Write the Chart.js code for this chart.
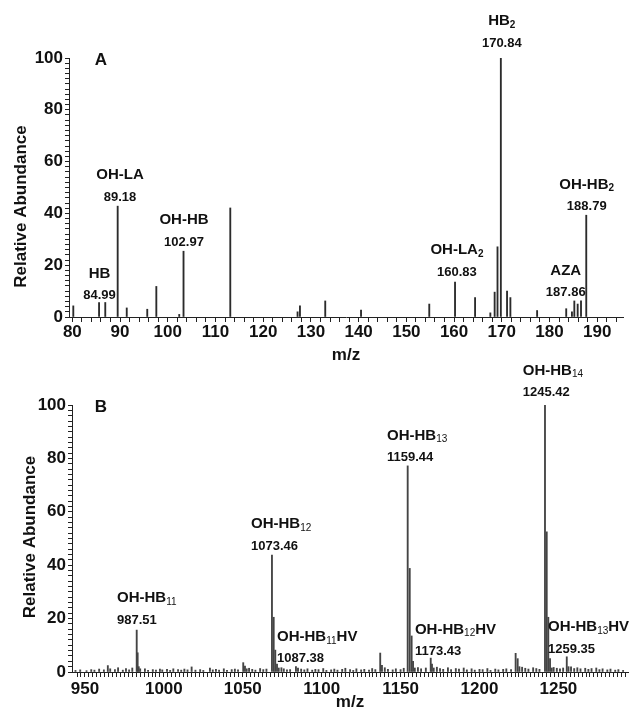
<!DOCTYPE html>
<html>
<head>
<meta charset="utf-8">
<script src="https://cdn.jsdelivr.net/npm/chart.js@4.4.1/dist/chart.umd.min.js"></script>
<style>
  html, body { margin: 0; padding: 0; background: #fff; overflow: hidden; }
  #wrapA { position: absolute; left: 0; top: 0; width: 635px; height: 366px; }
  #wrapB { position: absolute; left: 0; top: 346px; width: 635px; height: 363px; }
</style>
</head>
<body>
<div id="wrapA"><canvas id="chartA"></canvas></div>
<div id="wrapB"><canvas id="chartB"></canvas></div>
<script>
// panel A peaks (m/z read against the axis, relative abundance)
const mzA = [80.2, 85.6, 86.9, 89.5, 91.4, 95.7, 97.6, 102.4, 103.3, 113.1,
  127.2, 127.7, 133.0, 140.5, 154.8, 160.2, 164.4, 167.6, 168.5, 169.1,
  169.8, 171.1, 171.8, 177.4, 183.5, 184.7, 185.2, 185.9, 186.6, 187.7];
const abundanceA = [4.3, 5.6, 5.6, 42.8, 3.5, 3.0, 11.8, 1.0, 25.4, 42.1,
  2.0, 4.3, 6.2, 2.7, 5.0, 13.5, 7.5, 1.6, 9.6, 27.1,
  100, 10.0, 7.5, 2.5, 3.2, 2.0, 6.2, 5.0, 6.2, 39.3];

// panel B main peaks
const mzB = [982.8, 983.4, 984.1, 985.0, 1050.3, 1051.4, 1052.5,
  1068.5, 1069.6, 1070.6, 1071.7, 1072.8, 1083.7, 1137.1, 1138.2,
  1154.5, 1155.8, 1157.0, 1157.9, 1159.0, 1169.1, 1169.9, 1171.0,
  1222.9, 1224.2, 1225.3, 1241.5, 1242.6, 1243.6, 1244.7, 1245.8, 1255.3, 1256.4];
const abundanceB = [15.7, 7.2, 2.0, 1.2, 3.5, 2.2, 1.2,
  43.8, 20.5, 8.2, 3.0, 1.5, 2.0, 7.1, 2.5,
  77.2, 38.8, 13.5, 4.0, 1.5, 5.2, 3.0, 1.5,
  7.0, 5.0, 2.0, 100, 52.5, 20.5, 5.0, 1.5, 5.7, 2.0];

// panel B baseline noise
const noiseMzB = [944, 947, 951, 954, 956, 959, 962, 964.5, 966, 969,
  971, 974, 976, 978, 980, 988, 990, 993, 995, 997.5,
  999, 1002, 1004, 1006, 1009, 1011, 1013, 1015, 1017.6, 1020,
  1023, 1025, 1029.2, 1031, 1033, 1035, 1038, 1040, 1043, 1045,
  1047, 1054, 1056, 1058, 1061, 1063, 1065, 1074.5, 1076, 1078,
  1080, 1085, 1087, 1089, 1091, 1094, 1096, 1098, 1101, 1103,
  1106, 1108, 1110, 1113, 1115, 1118, 1120, 1122, 1125, 1127,
  1130, 1132, 1134, 1140, 1142, 1145, 1147, 1150, 1152, 1161,
  1163, 1166, 1173, 1175, 1177, 1180, 1182, 1185, 1187, 1190,
  1192, 1195, 1197, 1200, 1202, 1205, 1207, 1210, 1212, 1215,
  1217, 1220, 1227, 1229, 1231, 1234, 1236, 1238, 1247, 1249,
  1251, 1253, 1258, 1260, 1262, 1264, 1267, 1269, 1271, 1274,
  1276, 1278, 1281, 1283, 1286, 1288, 1291];
const noiseAbB = [0.6, 0.8, 0.5, 0.9, 0.7, 1.1, 0.8, 2.4, 1.2, 0.9,
  1.6, 0.7, 1.3, 0.8, 1.5, 1.2, 0.6, 0.9, 0.7, 1.1,
  0.8, 1.0, 0.6, 1.2, 0.9, 0.7, 1.1, 0.8, 1.9, 0.7,
  0.9, 0.6, 1.5, 0.8, 1.0, 0.7, 1.2, 0.6, 0.9, 1.1,
  0.8, 1.4, 1.0, 0.7, 1.3, 0.9, 1.1, 1.6, 1.2, 0.8,
  0.9, 1.5, 1.1, 0.8, 1.2, 0.7, 1.0, 0.9, 1.3, 0.6,
  0.8, 1.1, 0.7, 1.0, 1.4, 0.9, 0.6, 1.2, 0.8, 1.0,
  0.7, 1.3, 0.9, 1.6, 1.0, 0.8, 1.2, 0.9, 1.4, 1.7,
  1.2, 1.5, 1.8, 1.3, 1.0, 1.6, 0.9, 1.3, 1.1, 1.5,
  0.8, 1.2, 0.7, 1.0, 0.9, 1.3, 0.6, 1.1, 0.8, 1.0,
  1.2, 0.9, 1.8, 1.4, 1.1, 1.6, 1.3, 1.0, 1.7, 1.4,
  1.2, 1.5, 1.9, 1.3, 1.6, 1.2, 1.4, 1.0, 1.3, 1.5,
  0.9, 1.2, 0.8, 1.1, 0.7, 0.9, 0.6];

// tick labels
const xTicksA = [80, 90, 100, 110, 120, 130, 140, 150, 160, 170, 180, 190];
const xTicksB = [950, 1000, 1050, 1100, 1150, 1200, 1250];
const yTicks = [0, 20, 40, 60, 80, 100];

// peak annotations
const namesA = ['HB', 'OH-LA', 'OH-HB', 'HB', 'OH-LA', 'AZA', 'OH-HB'];
const subsA = ['', '', '', '2', '2', '', '2'];
const tailsA = ['', '', '', '', '', '', ''];
const valuesA = ['84.99', '89.18', '102.97', '170.84', '160.83', '187.86', '188.79'];
const labelMzA = [85.7, 90.0, 103.4, 170.0, 160.6, 183.4, 187.8];
const labelAbA = [8.2, 46.3, 28.9, 105.8, 17.3, 9.3, 42.6];

const namesB = ['OH-HB', 'OH-HB', 'OH-HB', 'OH-HB', 'OH-HB', 'OH-HB', 'OH-HB'];
const subsB = ['11', '12', '11', '13', '12', '14', '13'];
const tailsB = ['', '', 'HV', '', 'HV', '', 'HV'];
const valuesB = ['987.51', '1073.46', '1087.38', '1159.44', '1173.43', '1245.42', '1259.35'];
const labelMzB = [970.3, 1055.2, 1071.7, 1141.4, 1159.1, 1227.4, 1243.4];
const labelAbB = [19.5, 47.2, 4.9, 80.3, 7.7, 104.7, 8.6];

const FAMILY = '"Liberation Sans", Arial, sans-serif';
const INK = '#111';

function range(start, end, step) {
  const out = [];
  for (let v = start; v <= end + 1e-9; v += step) out.push(Math.round(v * 100) / 100);
  return out;
}

function labelPlugin(p) {
  return {
    id: 'peakLabels',
    afterDatasetsDraw(chart) {
      const { ctx, chartArea, scales: { x, y } } = chart;
      ctx.save();
      ctx.fillStyle = INK;
      ctx.textBaseline = 'middle';
      ctx.textAlign = 'left';
      p.values.forEach((val, i) => {
        const px = x.getPixelForValue(p.mz[i]);
        const py = y.getPixelForValue(p.ab[i]);
        const parts = [
          { t: p.names[i], f: 'bold 15px ' + FAMILY, dy: 0 },
          { t: p.subs[i], f: p.subWeight + ' 10px ' + FAMILY, dy: 4 },
          { t: p.tails[i], f: 'bold 15px ' + FAMILY, dy: 0 }
        ];
        let w = 0;
        parts.forEach((part) => {
          ctx.font = part.f;
          part.w = part.t ? ctx.measureText(part.t).width : 0;
          w += part.w;
        });
        let nx = p.align === 'left' ? px : px - w / 2;
        parts.forEach((part) => {
          if (!part.t) return;
          ctx.font = part.f;
          ctx.fillText(part.t, nx, py - 22 + part.dy);
          nx += part.w;
        });
        ctx.font = 'bold 13px ' + FAMILY;
        const vw = ctx.measureText(val).width;
        ctx.fillText(val, p.align === 'left' ? px : px - vw / 2, py);
      });
      ctx.font = 'bold 17px ' + FAMILY;
      ctx.textAlign = 'center';
      ctx.fillText(p.panel, 101, chartArea.top + 2.5);
      ctx.translate(p.titleX, (chartArea.top + chartArea.bottom) / 2 + p.titleShift);
      ctx.rotate(-Math.PI / 2);
      ctx.fillText('Relative Abundance', 0, 0);
      ctx.restore();
    }
  };
}

function buildChart(id, cfg) {
  const points = cfg.mz.map((m, i) => ({ x: m, y: cfg.ab[i] }));
  const axisFont = { family: FAMILY, size: 17, weight: 'bold' };
  return new Chart(document.getElementById(id), {
    type: 'bar',
    data: {
      datasets: [{
        data: points,
        backgroundColor: cfg.color,
        barThickness: 1.2,
        borderWidth: 0
      }]
    },
    options: {
      responsive: true,
      maintainAspectRatio: false,
      animation: false,
      layout: { padding: { top: cfg.top, right: cfg.right, left: 0, bottom: 0 } },
      plugins: { legend: { display: false }, tooltip: { enabled: false } },
      scales: {
        x: {
          type: 'linear',
          min: cfg.xMin,
          max: cfg.xMax,
          offset: false,
          grid: { drawOnChartArea: false, tickLength: 5, tickColor: '#222', offset: false },
          border: { color: '#222', width: 1 },
          ticks: {
            autoSkip: false,
            maxRotation: 0,
            padding: cfg.xLabelPad,
            color: INK,
            font: axisFont,
            callback: (v) => (cfg.xMajor.includes(v) ? String(v) : '')
          },
          afterBuildTicks: (s) => { s.ticks = cfg.xMinor.map((v) => ({ value: v })); },
          afterFit: (s) => { s.height = cfg.xHeight; },
          title: {
            display: true,
            text: 'm/z',
            color: INK,
            font: axisFont,
            padding: { top: 0, bottom: cfg.titlePad }
          }
        },
        y: {
          min: 0,
          max: 100,
          grid: { drawOnChartArea: false, tickLength: 4, tickColor: '#222' },
          border: { color: '#222', width: 1 },
          ticks: {
            autoSkip: false,
            padding: 2,
            color: INK,
            font: axisFont,
            callback: (v) => (yTicks.includes(v) ? String(v) : '')
          },
          afterBuildTicks: (s) => { s.ticks = range(0, 100, 2).map((v) => ({ value: v })); },
          afterFit: (s) => { s.width = cfg.yWidth; }
        }
      }
    },
    plugins: [labelPlugin(cfg.labels)]
  });
}

buildChart('chartA', {
  mz: mzA, ab: abundanceA, color: '#2b2b2b',
  xMin: 79.3, xMax: 195.4, xMajor: xTicksA, xMinor: range(80, 194, 2),
  top: 58, right: 12, yWidth: 69, xHeight: 49, xLabelPad: 0, titlePad: 0,
  labels: { names: namesA, subs: subsA, tails: tailsA, values: valuesA, mz: labelMzA, ab: labelAbA,
    align: 'center', subWeight: 'bold', panel: 'A', titleX: 21.5, titleShift: 19 }
});

buildChart('chartB', {
  mz: mzB.concat(noiseMzB), ab: abundanceB.concat(noiseAbB), color: '#444',
  xMin: 941.8, xMax: 1294.1, xMajor: xTicksB, xMinor: range(945, 1292.5, 2.5),
  top: 59, right: 7, yWidth: 72, xHeight: 37, xLabelPad: 2, titlePad: -4,
  labels: { names: namesB, subs: subsB, tails: tailsB, values: valuesB, mz: labelMzB, ab: labelAbB,
    align: 'left', subWeight: 'normal', panel: 'B', titleX: 30, titleShift: -1.5 }
});
</script>
</body>
</html>
